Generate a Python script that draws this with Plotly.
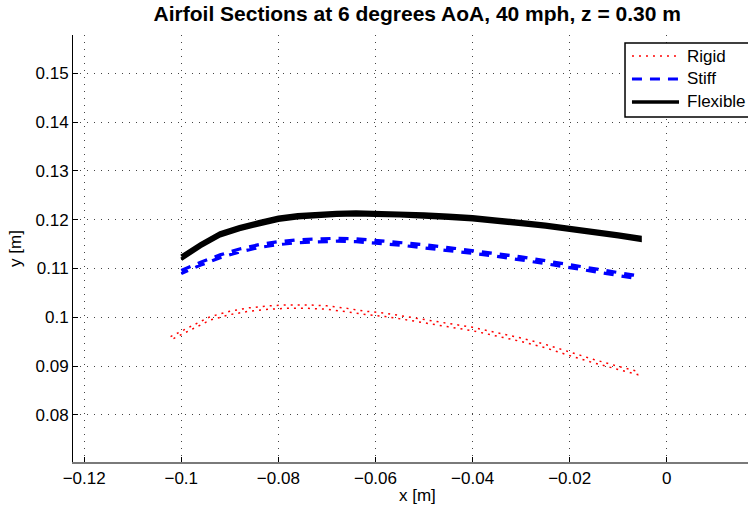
import plotly.graph_objects as go

# ---- data (upper / lower surface samples) ----
x_flex = [-0.1000, -0.0960, -0.0920, -0.0880, -0.0840, -0.0800, -0.0760, -0.0720, -0.0680,
          -0.0640, -0.0600, -0.0550, -0.0500, -0.0450, -0.0400, -0.0350, -0.0300, -0.0250,
          -0.0200, -0.0150, -0.0100, -0.0055]
y_flex_upper = [0.11250, 0.11510, 0.11730, 0.11860, 0.11960, 0.12050, 0.12100, 0.12130, 0.12150,
                0.12160, 0.12150, 0.12140, 0.12120, 0.12090, 0.12060, 0.12010, 0.11960, 0.11910,
                0.11840, 0.11780, 0.11710, 0.11640]
y_flex_lower = [0.11190, 0.11450, 0.11670, 0.11800, 0.11900, 0.11990, 0.12040, 0.12070, 0.12090,
                0.12100, 0.12090, 0.12080, 0.12060, 0.12030, 0.12000, 0.11950, 0.11900, 0.11850,
                0.11780, 0.11720, 0.11650, 0.11580]

x_stiff = [-0.1000, -0.0960, -0.0920, -0.0880, -0.0840, -0.0800, -0.0760, -0.0720, -0.0680,
           -0.0640, -0.0600, -0.0550, -0.0500, -0.0450, -0.0400, -0.0350, -0.0300, -0.0250,
           -0.0200, -0.0150, -0.0100, -0.0065]
y_stiff_upper = [0.10960, 0.11130, 0.11280, 0.11400, 0.11490, 0.11550, 0.11590, 0.11610, 0.11620,
                 0.11610, 0.11580, 0.11540, 0.11490, 0.11430, 0.11370, 0.11310, 0.11240, 0.11160,
                 0.11080, 0.11000, 0.10920, 0.10860]
y_stiff_lower = [0.10900, 0.11070, 0.11220, 0.11340, 0.11430, 0.11490, 0.11530, 0.11550, 0.11560,
                 0.11550, 0.11520, 0.11480, 0.11430, 0.11370, 0.11310, 0.11250, 0.11180, 0.11100,
                 0.11020, 0.10940, 0.10860, 0.10800]

x_rigid = [-0.1022, -0.0980, -0.0940, -0.0900, -0.0860, -0.0820, -0.0780, -0.0740, -0.0700,
           -0.0660, -0.0620, -0.0580, -0.0540, -0.0500, -0.0450, -0.0400, -0.0350, -0.0300,
           -0.0250, -0.0200, -0.0150, -0.0100, -0.0060]
y_rigid_upper = [0.09605, 0.09815, 0.10015, 0.10125, 0.10195, 0.10235, 0.10255, 0.10255, 0.10235,
                 0.10185, 0.10125, 0.10085, 0.10025, 0.09965, 0.09875, 0.09795, 0.09685, 0.09575,
                 0.09445, 0.09285, 0.09135, 0.08995, 0.08895]
y_rigid_lower = [0.09535, 0.09745, 0.09945, 0.10055, 0.10125, 0.10165, 0.10185, 0.10185, 0.10165,
                 0.10115, 0.10055, 0.10015, 0.09955, 0.09895, 0.09805, 0.09725, 0.09615, 0.09505,
                 0.09375, 0.09215, 0.09065, 0.08925, 0.08825]

series_names = ["Rigid", "Stiff", "Flexible"]

x_tickvals = [-0.12, -0.10, -0.08, -0.06, -0.04, -0.02, 0.0]
x_ticktext = ["\u22120.12", "\u22120.1", "\u22120.08", "\u22120.06", "\u22120.04", "\u22120.02", "0"]
y_tickvals = [0.08, 0.09, 0.10, 0.11, 0.12, 0.13, 0.14, 0.15]
y_ticktext = ["0.08", "0.09", "0.1", "0.11", "0.12", "0.13", "0.14", "0.15"]


def loop(xs, yu, yl):
    return list(xs) + list(reversed(xs)), list(yu) + list(reversed(yl))


FONT = "Liberation Sans, Arial, Helvetica, sans-serif"
styles = [dict(color="#ff0000", width=1.5, dash="2px,5px"),
          dict(color="#0000ff", width=3.2, dash="10px,8px"),
          dict(color="#000000", width=3.5)]

fig = go.Figure()
for name, (xs, yu, yl), st in zip(series_names,
                                  [(x_rigid, y_rigid_upper, y_rigid_lower),
                                   (x_stiff, y_stiff_upper, y_stiff_lower),
                                   (x_flex, y_flex_upper, y_flex_lower)],
                                  styles):
    xx, yy = loop(xs, yu, yl)
    fig.add_trace(go.Scatter(x=xx, y=yy, mode="lines", name=name, line=st, showlegend=False))

grid = dict(showgrid=True, gridcolor="#444444", gridwidth=1, griddash="1px,6px")

fig.update_xaxes(range=[-0.1223, 0.01673], tickvals=x_tickvals, ticktext=x_ticktext,
                 ticks="inside", ticklen=5, tickcolor="#000000", tickwidth=1,
                 showline=True, linecolor="#7a7a7a", linewidth=2, zeroline=False,
                 tickfont=dict(family=FONT, size=17, color="#000000"), **grid)
fig.update_yaxes(range=[0.07035, 0.15786], tickvals=y_tickvals, ticktext=y_ticktext,
                 ticks="inside", ticklen=5, tickcolor="#000000", tickwidth=1,
                 showline=True, linecolor="#000000", linewidth=1, zeroline=False,
                 tickfont=dict(family=FONT, size=17, color="#000000"),
                 title=dict(text="y [m]", font=dict(family=FONT, size=17, color="#000000"),
                            standoff=9),
                 **grid)

# legend box (MATLAB style, clipped at the right edge like the reference)
shapes = [dict(type="rect", xref="paper", yref="paper", x0=0.8178, x1=1.03, y0=0.808, y1=0.9813,
               line=dict(color="#000000", width=1.5), fillcolor="white", layer="above")]
annotations = []
entry_y = [0.9508, 0.8970, 0.8431]
for name, st, yv in zip(series_names, styles, entry_y):
    shapes.append(dict(type="line", xref="paper", yref="paper", x0=0.8281, x1=0.8978,
                       y0=yv, y1=yv, line=st, layer="above"))
    annotations.append(dict(text=name, xref="paper", yref="paper", x=0.9060, y=yv,
                            xanchor="left", yanchor="middle", showarrow=False,
                            font=dict(family=FONT, size=17, color="#000000")))
annotations.append(dict(text="x [m]", xref="paper", yref="paper", x=0.51, y=-0.078,
                        xanchor="center", yanchor="middle", showarrow=False,
                        font=dict(family=FONT, size=17, color="#000000")))

fig.update_layout(
    width=748, height=512,
    margin=dict(l=73, r=0, t=35, b=50),
    paper_bgcolor="white", plot_bgcolor="white",
    font=dict(family=FONT, size=17, color="#000000"),
    title=dict(text="<b>Airfoil Sections at 6 degrees AoA, 40 mph, z = 0.30 m</b>",
               font=dict(family=FONT, size=21, color="#000000"),
               x=0.51, xref="paper", xanchor="center",
               y=1 - 14 / 512, yref="container", yanchor="middle"),
    shapes=shapes,
    annotations=annotations,
    showlegend=False,
)

fig.write_html("out.html")
